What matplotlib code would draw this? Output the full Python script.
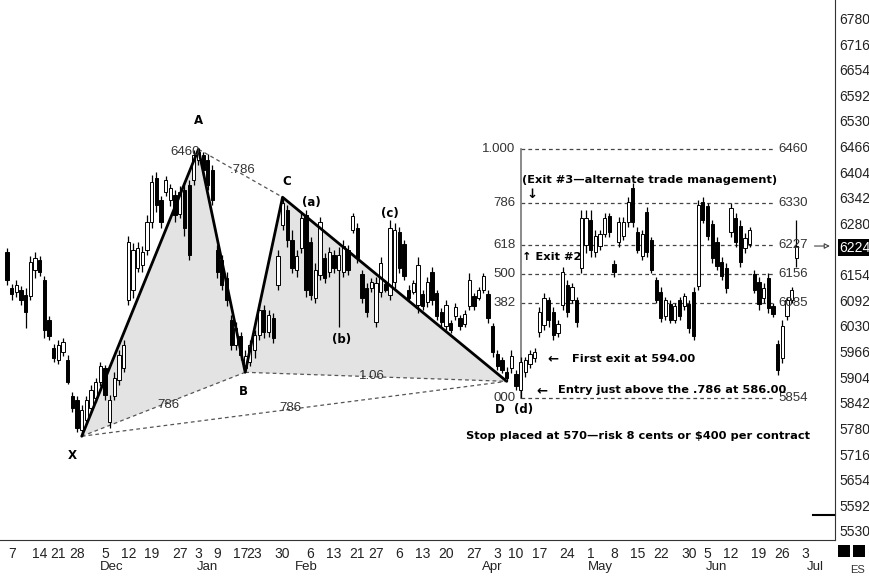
import matplotlib
matplotlib.use("Agg")
import matplotlib.pyplot as plt
from matplotlib import font_manager as fm
from matplotlib.patches import Polygon, Rectangle

# ---------------- data (prices) ----------------
highs = [
    6219, 6131, 6141, 6126, 6121, 6199, 6209, 6199, 6151, 6053,
    5985, 5994, 5999, 5958, 5868, 5858, 5836, 5858, 5885, 5902,
    5941, 5933, 5860, 5916, 5970, 5994, 6248, 6231, 6234, 6224,
    6299, 6397, 6404, 6346, 6395, 6375, 6360, 6370, 6380, 6385,
    6458, 6460, 6453, 6448, 6421, 6226, 6202, 6160, 6055, 6038,
    6014, 5970, 5994, 6019, 6085, 6080, 6068, 6060, 6214, 6343,
    6324, 6263, 6214, 6304, 6312, 6246, 6182, 6294, 6207, 6221,
    6214, 6221, 6238, 6226, 6304, 6280, 6165, 6133, 6146, 6148,
    6197, 6141, 6287, 6280, 6270, 6238, 6129, 6141, 6197, 6116,
    6148, 6173, 6116, 6072, 6092, 6043, 6085, 6055, 6068, 6158,
    6109, 6124, 6158, 6116, 6036, 5970, 5953, 5929, 5970, 5921,
    5953, 5953, 5970, 5975, 6075, 6109, 6099, 6075, 6043, 6173,
    6141, 6133, 6099, 6312, 6312, 6312, 6263, 6263, 6304, 6304,
    6190, 6294, 6294, 6343, 6377, 6270, 6263, 6319, 6246, 6148,
    6124, 6099, 6092, 6085, 6099, 6109, 6092, 6124, 6336, 6343,
    6329, 6287, 6246, 6197, 6182, 6329, 6304, 6287, 6255, 6270,
    6165, 6148, 6133, 6158, 6085, 5994, 6043, 6099, 6124, 6287,
]
lows = [
    6129, 6092, 6099, 6080, 6024, 6092, 6146, 6151, 5999, 5994,
    5941, 5936, 5955, 5887, 5819, 5770, 5760, 5789, 5819, 5843,
    5882, 5848, 5780, 5848, 5885, 5916, 6080, 6097, 6160, 6160,
    6202, 6268, 6307, 6268, 6346, 6321, 6282, 6292, 6248, 6190,
    6373, 6421, 6397, 6360, 6324, 6146, 6116, 6077, 5970, 5970,
    5946, 5916, 5931, 5950, 5994, 5999, 6002, 5987, 6116, 6263,
    6221, 6158, 6148, 6207, 6099, 6092, 6085, 6141, 6133, 6148,
    6158, 6026, 6148, 6153, 6255, 6182, 6085, 6050, 6112, 6026,
    6099, 6112, 6092, 6121, 6158, 6141, 6087, 6107, 6060, 6068,
    6075, 6080, 6043, 6026, 6019, 6011, 6043, 6019, 6026, 6068,
    6068, 6092, 6109, 6036, 5953, 5921, 5914, 5894, 5914, 5872,
    5854, 5904, 5926, 5941, 6002, 6019, 6026, 5994, 6002, 6068,
    6050, 6085, 6026, 6158, 6207, 6197, 6197, 6214, 6246, 6246,
    6148, 6221, 6238, 6270, 6270, 6207, 6190, 6197, 6158, 6085,
    6038, 6043, 6036, 6036, 6043, 6068, 6011, 5994, 6116, 6280,
    6238, 6182, 6165, 6141, 6109, 6246, 6221, 6173, 6207, 6221,
    6109, 6068, 6085, 6060, 6050, 5909, 5938, 6043, 6085, 6173,
]
opens = [
    6209, 6121, 6112, 6116, 6104, 6102, 6165, 6190, 6141, 6043,
    5975, 5946, 5965, 5946, 5858, 5848, 5775, 5799, 5829, 5853,
    5892, 5926, 5794, 5858, 5897, 5926, 6092, 6116, 6170, 6177,
    6214, 6282, 6390, 6336, 6356, 6336, 6348, 6302, 6360, 6373,
    6385, 6434, 6446, 6434, 6409, 6214, 6190, 6146, 6043, 5982,
    6004, 5926, 5941, 5970, 6007, 6068, 6014, 6048, 6129, 6275,
    6312, 6238, 6165, 6219, 6299, 6234, 6097, 6153, 6195, 6160,
    6202, 6165, 6160, 6214, 6263, 6268, 6155, 6121, 6121, 6038,
    6112, 6131, 6104, 6136, 6258, 6229, 6116, 6112, 6080, 6107,
    6087, 6160, 6109, 6063, 6029, 6036, 6053, 6048, 6033, 6077,
    6102, 6097, 6116, 6107, 6029, 5960, 5946, 5916, 5926, 5911,
    5872, 5916, 5936, 5950, 6014, 6031, 6092, 6063, 6011, 6080,
    6129, 6092, 6092, 6170, 6226, 6287, 6209, 6224, 6253, 6297,
    6180, 6234, 6248, 6282, 6365, 6258, 6199, 6307, 6238, 6141,
    6112, 6053, 6082, 6043, 6092, 6077, 6082, 6112, 6126, 6331,
    6321, 6277, 6234, 6185, 6170, 6258, 6292, 6273, 6219, 6229,
    6155, 6136, 6097, 6146, 6077, 5985, 5950, 6053, 6092, 6195,
]
closes = [
    6141, 6107, 6129, 6092, 6063, 6185, 6195, 6160, 6019, 6004,
    5950, 5982, 5990, 5892, 5829, 5780, 5824, 5848, 5872, 5892,
    5931, 5860, 5848, 5902, 5958, 5982, 6234, 6214, 6219, 6209,
    6282, 6380, 6324, 6282, 6385, 6365, 6299, 6356, 6268, 6202,
    6446, 6453, 6409, 6373, 6336, 6160, 6129, 6092, 5982, 6024,
    5958, 5955, 5982, 6007, 6068, 6014, 6055, 5999, 6199, 6329,
    6238, 6170, 6199, 6292, 6116, 6104, 6165, 6282, 6146, 6209,
    6170, 6202, 6224, 6165, 6297, 6195, 6097, 6063, 6136, 6133,
    6182, 6116, 6268, 6263, 6170, 6151, 6097, 6133, 6177, 6077,
    6136, 6092, 6053, 6038, 6080, 6019, 6075, 6029, 6058, 6141,
    6077, 6116, 6151, 6048, 5965, 5931, 5921, 5902, 5955, 5882,
    5941, 5946, 5960, 5965, 6063, 6097, 6043, 6007, 6033, 6160,
    6063, 6124, 6038, 6292, 6292, 6214, 6248, 6253, 6292, 6258,
    6160, 6282, 6282, 6331, 6282, 6214, 6253, 6209, 6165, 6092,
    6048, 6092, 6043, 6077, 6053, 6102, 6024, 6004, 6324, 6287,
    6248, 6195, 6175, 6151, 6121, 6316, 6234, 6185, 6243, 6263,
    6116, 6082, 6121, 6072, 6058, 5921, 6029, 6092, 6116, 6224,
]

# harmonic pattern points (bar index, price)
pattern_names = ["X", "A", "B", "C", "D"]
pattern_bars = [16, 41, 51, 59, 107]
pattern_prices = [5760, 6460, 5916, 6343, 5894]

# Fibonacci projection levels
fib_ratio_labels = ["1.000", "786", "618", "500", "382", "000"]
fib_prices = [6460, 6330, 6227, 6156, 6085, 5854]
fib_price_labels = ["6460", "6330", "6227", "6156", "6085", "5854"]

# axis ticks
ytick_values = [6780, 6716, 6654, 6592, 6530, 6466, 6404, 6342, 6280, 6224,
                6154, 6092, 6030, 5966, 5904, 5842, 5780, 5716, 5654, 5592, 5530]
last_price = 6224
xtick_bars = [1, 7, 11, 15, 21, 26, 31, 37, 41, 45, 50, 53, 59, 65, 70, 75, 79,
              84, 89, 94, 100, 105, 109, 114, 120, 125, 130, 135, 140, 146,
              150, 155, 161, 166, 171]
xtick_labels = ["7", "14", "21", "28", "5", "12", "19", "27", "3", "9", "17",
                "23", "30", "6", "13", "21", "27", "6", "13", "20", "27", "3",
                "10", "17", "24", "1", "8", "15", "22", "30", "5", "12", "19",
                "26", "3"]
month_bars = [22.5, 43, 64, 84, 104, 127, 152, 173]
month_labels = ["Dec", "Jan", "Feb", "Mar", "Apr", "May", "Jun", "Jul"]

# ---------------- fonts ----------------
avail = {f.name for f in fm.fontManager.ttflist}
narrow = "Liberation Sans Narrow" if "Liberation Sans Narrow" in avail else "Liberation Sans"
bold_font = "DejaVu Sans"

# ---------------- figure ----------------
fig = plt.figure(figsize=(8.7, 5.77), dpi=100)
ax = fig.add_axes([0.0, 0.0641, 0.9598, 0.9359])
ax.set_xlim(-1.5, 177.3)
ax.set_ylim(5507, 6824)

# shaded XAB and BCD triangles
X, A, B, C, D = list(zip(pattern_bars, pattern_prices))
ax.add_patch(Polygon([X, A, B], closed=True, facecolor="#e3e3e3", edgecolor="none", zorder=1))
ax.add_patch(Polygon([B, C, D], closed=True, facecolor="#e3e3e3", edgecolor="none", zorder=1))

# dashed ratio lines
dash_kw = dict(color="#555555", lw=0.9, ls=(0, (3, 2.5)), zorder=2)
for p, q in [(A, C), (X, B), (B, D), (X, D)]:
    ax.plot([p[0], q[0]], [p[1], q[1]], **dash_kw)

# Fibonacci levels on the right
fib_x0, fib_x1 = 110, 164.5
for pr in fib_prices:
    ax.plot([fib_x0, fib_x1], [pr, pr], color="#444444", lw=0.9, ls=(0, (3, 2.5)), zorder=2)
ax.plot([fib_x0, fib_x0], [fib_prices[-1], fib_prices[0]], color="#777777", lw=1.2, zorder=2)
for lab, pr in zip(fib_ratio_labels, fib_prices):
    ax.text(108.9, pr, lab, ha="right", va="center", fontsize=9.5,
            family=[narrow, "DejaVu Sans"], color="#333333", zorder=6)
for lab, pr in zip(fib_price_labels, fib_prices):
    ax.text(165.2, pr, lab, ha="left", va="center", fontsize=9.5,
            family=[narrow, "DejaVu Sans"], color="#333333", zorder=6)

# candlesticks
idx = list(range(len(closes)))
ax.vlines(idx, lows, highs, color="black", lw=0.9, zorder=3)
up = [i for i in idx if closes[i] >= opens[i]]
dn = [i for i in idx if closes[i] < opens[i]]
w = 0.7
ax.bar(up, [max(closes[i] - opens[i], 2) for i in up], bottom=[opens[i] for i in up],
       width=w, facecolor="white", edgecolor="black", lw=0.7, zorder=4)
ax.bar(dn, [max(opens[i] - closes[i], 2) for i in dn], bottom=[closes[i] for i in dn],
       width=w, facecolor="black", edgecolor="black", lw=0.7, zorder=4)

# pattern legs
ax.plot(pattern_bars, pattern_prices, color="black", lw=2.0, zorder=5, solid_capstyle="round")

# labels on the pattern
tb = dict(fontsize=8.5, fontweight="bold", family=[bold_font], color="black", zorder=7)
ax.text(40.9, 6531, "A", ha="center", va="center", **tb)
ax.text(13.9, 5714, "X", ha="center", va="center", **tb)
ax.text(50.7, 5868, "B", ha="center", va="center", **tb)
ax.text(60.0, 6382, "C", ha="center", va="center", **tb)
ax.text(105.6, 5826, "D", ha="center", va="center", **tb)
ax.text(110.6, 5826, "(d)", ha="center", va="center", **tb)
ax.text(65.1, 6329, "(a)", ha="center", va="center", **tb)
ax.text(71.7, 5995, "(b)", ha="center", va="center", **tb)
ax.text(82.0, 6304, "(c)", ha="center", va="center", **tb)

tn = dict(fontsize=9.5, family=[narrow, "DejaVu Sans"], color="#333333", zorder=7)
ax.text(41.2, 6453, "6460", ha="right", va="center", **tn)
ax.text(50.5, 6410, ".786", ha="center", va="center", **tn)
ax.text(34.5, 5836, "786", ha="center", va="center", **tn)
ax.text(78.2, 5907, "1.06", ha="center", va="center", **tn)
ax.text(60.6, 5829, "786", ha="center", va="center", **tn)

# trade management notes
tm = dict(fontsize=8.2, fontweight="bold", family=[bold_font], color="black", zorder=7)
ax.text(110.3, 6386, "(Exit #3\u2014alternate trade management)", ha="left", va="center", **tm)
ax.text(112.4, 6350, "\u2193", ha="center", va="center", fontsize=9.5, fontweight="bold",
        family=["DejaVu Sans"], zorder=7)
ax.text(110.3, 6197, "\u2191 Exit #2", ha="left", va="center", **tm)
ax.text(116.9, 5948, "\u2190", ha="center", va="center", fontsize=9.5, fontweight="bold",
        family=["DejaVu Sans"], zorder=7)
ax.text(121.0, 5948, "First exit at 594.00", ha="left", va="center", **tm)
ax.text(114.6, 5870, "\u2190", ha="center", va="center", fontsize=9.5, fontweight="bold",
        family=["DejaVu Sans"], zorder=7)
ax.text(118.0, 5872, "Entry just above the .786 at 586.00", ha="left", va="center", **tm)
ax.text(98.3, 5761, "Stop placed at 570\u2014risk 8 cents or \\$400 per contract",
        ha="left", va="center", **tm)

# last price pointer and short marker on the scale
ax.annotate("", xy=(176.8, last_price), xytext=(172.3, last_price),
            arrowprops=dict(arrowstyle="-|>", color="#444444", lw=0.8, fc="white",
                            mutation_scale=8), annotation_clip=False)
ax.plot([172.5, 177.3], [5568, 5568], color="black", lw=1.5, clip_on=False)

# axes styling
for s in ["top", "left"]:
    ax.spines[s].set_visible(False)
ax.spines["right"].set_color("#333333")
ax.spines["bottom"].set_color("#333333")
ax.yaxis.tick_right()
ax.set_yticks(ytick_values)
ax.set_yticklabels([str(v) for v in ytick_values])
ax.tick_params(axis="y", length=0, pad=3, labelsize=10, labelcolor="#222222")
for lab in ax.get_yticklabels():
    lab.set_family([narrow, "DejaVu Sans"])
    if lab.get_text() == str(last_price):
        lab.set_color("white")
        lab.set_bbox(dict(facecolor="black", edgecolor="none", pad=0.8))

ax.set_xticks(xtick_bars)
ax.set_xticklabels(xtick_labels)
ax.set_xticks(month_bars, minor=True)
ax.set_xticklabels(month_labels, minor=True)
ax.tick_params(axis="x", which="major", length=0, pad=5, labelsize=10, labelcolor="#222222")
ax.tick_params(axis="x", which="minor", length=0, pad=15, labelsize=9.5, labelcolor="#222222")
for lab in ax.get_xticklabels() + ax.get_xticklabels(minor=True):
    lab.set_family([narrow, "DejaVu Sans"])

# bottom-right symbol box
fig.patches.append(Rectangle((0.963, 0.034), 0.0138, 0.021, transform=fig.transFigure,
                             facecolor="black", edgecolor="none"))
fig.patches.append(Rectangle((0.980, 0.034), 0.0138, 0.021, transform=fig.transFigure,
                             facecolor="black", edgecolor="none"))
fig.text(0.986, 0.004, "ES", ha="center", va="bottom", fontsize=8,
         family=[narrow, "DejaVu Sans"], color="#333333")

fig.savefig("out.png", dpi=100)
